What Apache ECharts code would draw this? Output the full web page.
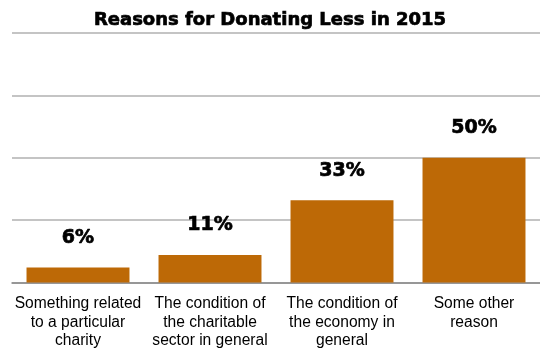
<!DOCTYPE html>
<html>
<head>
<meta charset="utf-8">
<script src="https://cdn.jsdelivr.net/npm/echarts@6/dist/echarts.min.js"></script>
<style>
  html, body { margin: 0; padding: 0; background: #fff; }
  #chart { width: 540px; height: 350px; }
</style>
</head>
<body>
<div id="chart"></div>
<script>
// Survey: reasons given for donating less in 2015 (percent of respondents)
const categories = [
  'Something related\nto a particular\ncharity',
  'The condition of\nthe charitable\nsector in general',
  'The condition of\nthe economy in\ngeneral',
  'Some other\nreason'
];
const shares = [6, 11, 33, 50];

const chart = echarts.init(document.getElementById('chart'));
chart.setOption({
  animation: false,
  title: {
    text: 'Reasons for Donating Less in 2015',
    left: 'center',
    top: 6,
    textStyle: {
      fontFamily: 'DejaVu Sans, Arial, sans-serif', fontSize: 18, fontWeight: 'bold', color: '#000',
      textBorderColor: '#000', textBorderWidth: 0.7
    }
  },
  grid: { left: 12, width: 531, top: 33, bottom: 66 },
  xAxis: {
    type: 'category',
    data: categories,
    axisTick: { show: false },
    axisLine: { lineStyle: { color: '#888', width: 1.5 } },
    axisLabel: {
      interval: 0,
      margin: 12,
      fontFamily: 'Liberation Sans, Arial, sans-serif',
      fontSize: 15.6,
      lineHeight: 18.5,
      color: '#000'
    }
  },
  yAxis: {
    type: 'value',
    min: 0,
    max: 100,
    interval: 25,
    axisLabel: { show: false },
    axisLine: { show: false },
    axisTick: { show: false },
    splitLine: { lineStyle: { color: '#b0b0b0', width: 1.5 } }
  },
  series: [{
    type: 'bar',
    data: shares,
    barCategoryGap: '22%',
    itemStyle: { color: '#BD6906' },
    label: {
      show: true,
      position: 'top',
      distance: 20,
      formatter: '{c}%',
      fontFamily: 'DejaVu Sans, Arial, sans-serif',
      fontSize: 19,
      fontWeight: 'bold',
      color: '#000',
      textBorderColor: '#000',
      textBorderWidth: 0.7
    }
  }]
});
</script>
</body>
</html>
